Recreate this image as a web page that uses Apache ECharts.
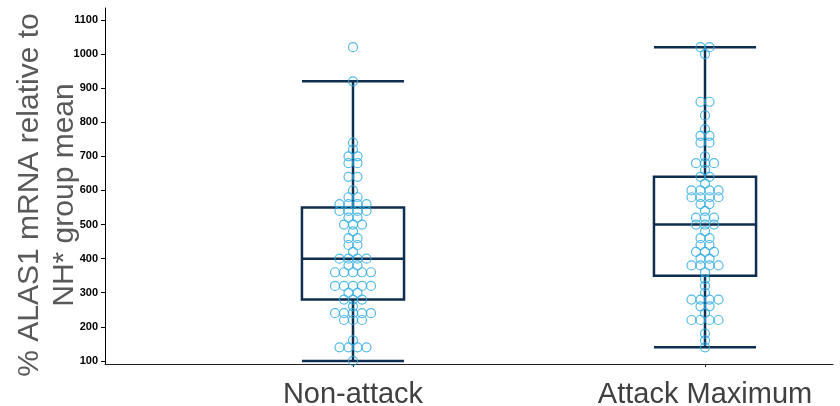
<!DOCTYPE html>
<html>
<head>
<meta charset="utf-8">
<script src="https://cdn.jsdelivr.net/npm/echarts@6/dist/echarts.min.js"></script>
<style>
  html, body { margin: 0; padding: 0; background: #fff; }
  #main { width: 840px; height: 406px; }
</style>
</head>
<body>
<div id="main"></div>
<script>
// categories, placed at x = 1 and x = 2 on a value axis
var categories = ['Non-attack', 'Attack Maximum'];
var yTicks = [100, 200, 300, 400, 500, 600, 700, 800, 900, 1000, 1100];

// individual values
var nonAttack = [
    1020, 920, 740, 720, 700, 700, 680, 680, 640, 640, 600, 580, 580,
    560, 560, 560, 560, 540, 540, 540, 540, 520, 520, 500, 500, 500, 480,
    460, 460, 440, 440, 420, 400, 400, 400, 400, 380, 380,
    360, 360, 360, 360, 360, 320, 320, 320, 320, 320, 300, 300,
    280, 280, 280, 260, 240, 240, 240, 240, 240, 220, 220, 220,
    160, 140, 140, 140, 140, 100
];
var attackMax = [
    1020, 1020, 1000, 860, 860, 820, 780, 760, 760, 740, 740, 700,
    680, 680, 680, 660, 640, 640, 620, 600, 600, 600, 600, 580, 580, 580, 580,
    560, 560, 540, 520, 520, 520, 500, 500, 500, 480, 460, 460, 440, 440,
    420, 420, 420, 400, 400, 380, 380, 380, 380, 360, 340, 320, 300,
    280, 280, 280, 280, 260, 260, 240, 220, 220, 220, 220, 180, 160, 140
];

// box stats: [lower whisker, Q1, median, Q3, upper whisker]
var nonAttackBox = [100, 280, 400, 550, 920];
var attackMaxBox = [140, 350, 500, 640, 1020];

var dotStep = 0.0256;   // horizontal spacing of dots sharing one value
var boxHalf = 0.145;

// row-centred dot layout, like a column dot plot
function dotRow(values, xc) {
    var counts = {}, seen = {}, out = [];
    values.forEach(function (v) { counts[v] = (counts[v] || 0) + 1; });
    values.forEach(function (v) {
        var i = seen[v] || 0;
        seen[v] = i + 1;
        out.push([xc + (i - (counts[v] - 1) / 2) * dotStep, v]);
    });
    return out;
}

var dots = dotRow(nonAttack, 1).concat(dotRow(attackMax, 2));
var boxes = [[1].concat(nonAttackBox), [2].concat(attackMaxBox)];

var navy = '#0f2d4f';

var chart = echarts.init(document.getElementById('main'));
var option = {
    animation: false,
    grid: { left: 105, right: 7, top: 8, bottom: 42, containLabel: false, outerBoundsMode: 'none' },
    xAxis: {
        type: 'value',
        min: 0.2955,
        max: 2.3636,
        splitLine: { show: false },
        axisLine: { lineStyle: { color: '#222', width: 1 } },
        axisTick: { show: true, customValues: [1, 2], length: 3, lineStyle: { color: '#222' } },
        axisLabel: {
            customValues: [1, 2],
            formatter: function (v) { return categories[Math.round(v) - 1]; },
            fontFamily: 'Liberation Sans',
            fontSize: 29,
            color: '#404040',
            margin: 16
        }
    },
    yAxis: {
        type: 'value',
        min: 91,
        max: 1135,
        name: '% ALAS1 mRNA relative to\nNH* group mean',
        nameLocation: 'middle',
        nameRotate: 90,
        nameGap: 23,
        nameMoveOverlap: false,
        nameTextStyle: {
            fontFamily: 'Liberation Sans',
            fontSize: 30,
            color: '#595959',
            lineHeight: 35,
            padding: [0, 18, 0, 0]
        },
        splitLine: { show: false },
        axisLine: { show: true, lineStyle: { color: '#000', width: 1 } },
        axisTick: { show: true, customValues: yTicks, length: 4, lineStyle: { color: '#000' } },
        axisLabel: {
            customValues: yTicks,
            formatter: function (v) { return String(v); },
            fontFamily: 'Liberation Sans',
            fontWeight: 'bold',
            fontSize: 11,
            color: '#000',
            margin: 7
        }
    },
    series: [
        {
            type: 'custom',
            data: boxes,
            z: 2,
            renderItem: function (params, api) {
                var x = api.value(0);
                var hw = api.size([boxHalf, 0])[0];
                var lo = api.coord([x, api.value(1)]);
                var q1 = api.coord([x, api.value(2)]);
                var med = api.coord([x, api.value(3)]);
                var q3 = api.coord([x, api.value(4)]);
                var hi = api.coord([x, api.value(5)]);
                var cx = lo[0];
                var st = { stroke: navy, lineWidth: 2.5, fill: null };
                function ln(x1, y1, x2, y2) {
                    return { type: 'line', shape: { x1: x1, y1: y1, x2: x2, y2: y2 }, style: st };
                }
                return {
                    type: 'group',
                    children: [
                        { type: 'rect', shape: { x: cx - hw, y: q3[1], width: 2 * hw, height: q1[1] - q3[1] }, style: st },
                        ln(cx - hw, med[1], cx + hw, med[1]),
                        ln(cx, q3[1], cx, hi[1]),
                        ln(cx, q1[1], cx, lo[1]),
                        ln(cx - hw, hi[1], cx + hw, hi[1]),
                        ln(cx - hw, lo[1], cx + hw, lo[1])
                    ]
                };
            }
        },
        {
            type: 'scatter',
            data: dots,
            z: 3,
            symbol: 'circle',
            symbolSize: 9,
            itemStyle: {
                color: 'rgba(255,255,255,0)',
                borderColor: '#29a9e1',
                borderWidth: 1.2
            }
        }
    ]
};
chart.setOption(option);
</script>
</body>
</html>
